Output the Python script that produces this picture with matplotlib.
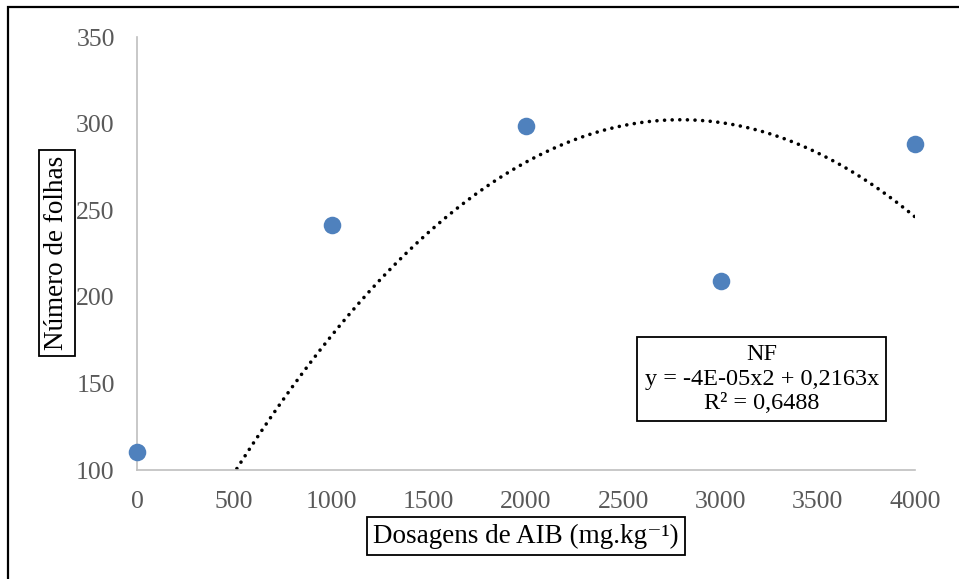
import matplotlib.pyplot as plt
from matplotlib.patches import Rectangle
import numpy as np

plt.rcParams["font.family"] = ["Liberation Serif", "DejaVu Serif"]

# Data
dose = [0, 1000, 2000, 3000, 4000]
n_leaves = [110.5, 241.5, 298.5, 209, 288.5]
eq_lines = ["NF", "y = -4E-05x2 + 0,2163x", "R² = 0,6488"]
y_ticks = [100, 150, 200, 250, 300, 350]
x_ticks = [0, 500, 1000, 1500, 2000, 2500, 3000, 3500, 4000]

BLUE = "#4F81BD"
GREY_TXT = "#595959"
GREY_AX = "#BFBFBF"

fig = plt.figure(figsize=(9.59, 5.79), dpi=100)
ax = fig.add_axes([137 / 959, 1 - 470 / 579, 778 / 959, 433 / 579])

# quadratic trend through origin (as Excel "set intercept = 0")
x = np.array(dose, float)
A = np.column_stack([x ** 2, x])
coef, *_ = np.linalg.lstsq(A, np.array(n_leaves), rcond=None)
xs = np.linspace(0, 4000, 400)
ax.plot(xs, coef[0] * xs ** 2 + coef[1] * xs, color="black", lw=2.6,
        linestyle=(0, (0.01, 2.1)), dash_capstyle="round", zorder=2)

ax.scatter(dose, n_leaves, s=160, color=BLUE, zorder=3, clip_on=False, linewidths=0)

ax.set_xlim(0, 4000)
ax.set_ylim(100, 350)
ax.set_xticks(x_ticks)
ax.set_yticks(y_ticks)
ax.tick_params(length=0, labelsize=18.5, colors=GREY_TXT)
ax.tick_params(axis="x", pad=15)
ax.tick_params(axis="y", pad=16)
for s in ("top", "right"):
    ax.spines[s].set_visible(False)
for s in ("left", "bottom"):
    ax.spines[s].set_color(GREY_AX)
    ax.spines[s].set_linewidth(1.2)

ax.text(0.803, 0.21, "\n".join(eq_lines), transform=ax.transAxes, ha="center",
        va="center", fontsize=17.5, linespacing=1.2,
        bbox=dict(boxstyle="square,pad=0.3", facecolor="white", edgecolor="black", lw=1.3))

fig.text(57 / 959, 1 - 253 / 579, "Número de folhas", rotation=90, ha="center",
         va="center", fontsize=19.5,
         bbox=dict(boxstyle="square,pad=0.22", facecolor="white", edgecolor="black", lw=1.3))
fig.text(526 / 959, 1 - 536 / 579, "Dosagens de AIB (mg.kg⁻¹)",
         ha="center", va="center", fontsize=19.5,
         bbox=dict(boxstyle="square,pad=0.22", facecolor="white", edgecolor="black", lw=1.3))

# outer chart border (right and bottom edges fall outside the image)
fig.patches.append(Rectangle((8 / 959, -0.05), 1.1, 1 - 7 / 579 + 0.05,
                             transform=fig.transFigure, fill=False,
                             edgecolor="black", lw=1.6))

fig.savefig("out.png", dpi=100)
